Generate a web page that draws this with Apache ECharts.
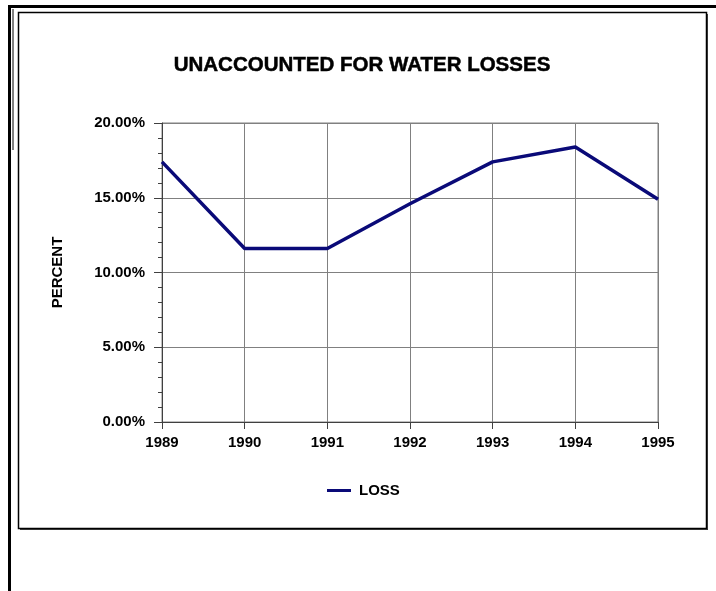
<!DOCTYPE html>
<html>
<head>
<meta charset="utf-8">
<script src="https://cdn.jsdelivr.net/npm/echarts@6/dist/echarts.min.js"></script>
<style>
  html, body { margin: 0; padding: 0; background: #ffffff; }
  #chart { width: 716px; height: 591px; }
</style>
</head>
<body>
<div id="chart"></div>
<script>
// Water loss not accounted for, by year (percent)
const years = ['1989', '1990', '1991', '1992', '1993', '1994', '1995'];
const lossPercent = [17.4, 11.6, 11.6, 14.6, 17.4, 18.4, 14.9];
const seriesName = 'LOSS';
const chartTitle = 'UNACCOUNTED FOR WATER LOSSES';
const yAxisName = 'PERCENT';

const FONT = '"Liberation Sans", Arial, Helvetica, sans-serif';
const chart = echarts.init(document.getElementById('chart'), null, { renderer: 'canvas' });

chart.setOption({
  backgroundColor: '#ffffff',
  animation: false,
  title: {
    text: chartTitle,
    left: 357,
    textAlign: 'center',
    top: 50,
    textStyle: { fontFamily: FONT, fontSize: 20.5, fontWeight: 'bold', color: '#000',
      textBorderColor: '#000', textBorderWidth: 0.5 }
  },
  grid: {
    left: 162, right: 58, top: 123, bottom: 169,
    show: true, borderColor: '#808080', borderWidth: 1, backgroundColor: 'transparent'
  },
  legend: {
    data: [seriesName],
    left: 322,
    top: 478,
    icon: 'rect',
    itemWidth: 24,
    itemHeight: 3,
    textStyle: { fontFamily: FONT, fontSize: 15, fontWeight: 'bold', color: '#000', padding: [0, 0, 0, 3] }
  },
  xAxis: {
    type: 'category',
    data: years,
    boundaryGap: false,
    axisLine: { lineStyle: { color: '#404040', width: 1 } },
    axisTick: { show: true, length: 7, lineStyle: { color: '#404040' } },
    axisLabel: { fontFamily: FONT, fontSize: 15, fontWeight: 'bold', color: '#000', margin: 13 },
    splitLine: { show: true, lineStyle: { color: '#808080', width: 1 } }
  },
  yAxis: {
    type: 'value',
    min: 0,
    max: 20,
    interval: 5,
    name: yAxisName,
    nameLocation: 'middle',
    nameGap: 97,
    nameRotate: 90,
    nameTextStyle: { fontFamily: FONT, fontSize: 15, fontWeight: 'bold', color: '#000' },
    axisLine: { show: true, lineStyle: { color: '#404040', width: 1 } },
    axisTick: { show: true, length: 8, lineStyle: { color: '#404040' } },
    minorTick: { show: true, splitNumber: 5, length: 4, lineStyle: { color: '#404040' } },
    axisLabel: {
      fontFamily: FONT, fontSize: 15, fontWeight: 'bold', color: '#000', margin: 17,
      formatter: v => v.toFixed(2) + '%'
    },
    splitLine: { show: true, lineStyle: { color: '#808080', width: 1 } }
  },
  series: [{
    name: seriesName,
    type: 'line',
    data: lossPercent,
    showSymbol: false,
    symbol: 'none',
    lineStyle: { color: '#0a0a78', width: 3.5 },
    itemStyle: { color: '#0a0a78' }
  }],
  graphic: [
    // outer page frame: heavy top and left rules
    { type: 'rect', shape: { x: 8, y: 5, width: 708, height: 3 }, style: { fill: '#000' }, silent: true },
    { type: 'rect', shape: { x: 8, y: 5, width: 3, height: 586 }, style: { fill: '#000' }, silent: true },
    { type: 'line', shape: { x1: 13, y1: 9, x2: 13, y2: 150 }, style: { stroke: '#000', lineWidth: 1 }, silent: true },
    // chart box with a slight shadow on right and bottom
    { type: 'rect', shape: { x: 18.5, y: 12.5, width: 688, height: 516 }, style: { fill: 'none', stroke: '#000', lineWidth: 1.5 }, silent: true },
    { type: 'line', shape: { x1: 707.5, y1: 14, x2: 707.5, y2: 530 }, style: { stroke: '#333', lineWidth: 1 }, silent: true },
    { type: 'line', shape: { x1: 20, y1: 529.5, x2: 708, y2: 529.5 }, style: { stroke: '#333', lineWidth: 1 }, silent: true }
  ]
});
</script>
</body>
</html>
